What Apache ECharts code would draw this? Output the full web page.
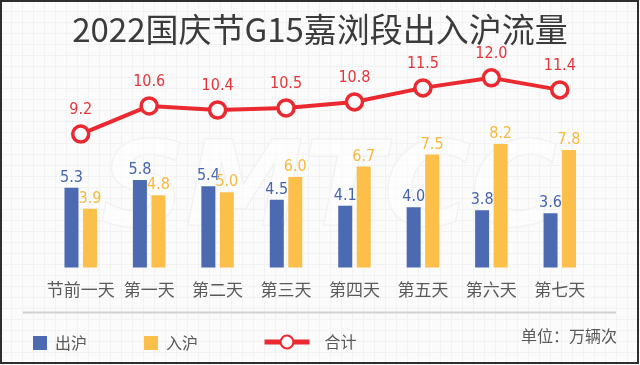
<!DOCTYPE html>
<html>
<head>
<meta charset="utf-8">
<script src="https://cdn.jsdelivr.net/npm/echarts@6/dist/echarts.min.js"></script>
<style>
html,body{margin:0;padding:0;background:#fff;}
#main{width:640px;height:365px;}
</style>
</head>
<body>
<div id="main"></div>
<script>
var categories = ['节前一天','第一天','第二天','第三天','第四天','第五天','第六天','第七天'];
var outValues = [5.3, 5.8, 5.4, 4.5, 4.1, 4.0, 3.8, 3.6];
var inValues = [3.9, 4.8, 5.0, 6.0, 6.7, 7.5, 8.2, 7.8];
var totalValues = [9.2, 10.6, 10.4, 10.5, 10.8, 11.5, 12.0, 11.4];
var seriesNames = ['出沪','入沪','合计'];
var titleText = '2022国庆节G15嘉浏段出入沪流量';
var unitText = '单位：万辆次';

var cjk = "'Noto Sans CJK SC','Noto Sans',sans-serif";
var numFont = "'Liberation Sans Narrow','DejaVu Sans Condensed','Roboto',sans-serif";

// faint background grid pattern
var pc = document.createElement('canvas');
pc.width = 11; pc.height = 11;
var pctx = pc.getContext('2d');
pctx.fillStyle = '#fbfbfb';
pctx.fillRect(0,0,11,11);
pctx.fillStyle = '#f2f2f2';
pctx.fillRect(0,0,11,1);
pctx.fillRect(0,0,1,11);

var chart = echarts.init(document.getElementById('main'), null, {renderer:'canvas'});
var option = {
  backgroundColor: {image: pc, repeat: 'repeat'},
  animation: false,
  title: {
    text: titleText,
    left: 'center',
    top: 8,
    textStyle: {fontFamily: cjk, fontSize: 33, fontWeight: 'normal', color: '#3b3b3b'}
  },
  legend: [
    {
      data: [seriesNames[0]], left: 28, top: 330, itemWidth: 14, itemHeight: 14, icon: 'rect',
      textStyle: {fontFamily: cjk, fontSize: 16, color: '#595959', padding: [0,0,0,3]}
    },
    {
      data: [seriesNames[1]], left: 139, top: 330, itemWidth: 14, itemHeight: 14, icon: 'rect',
      textStyle: {fontFamily: cjk, fontSize: 16, color: '#595959', padding: [0,0,0,3]}
    },
    {
      data: [seriesNames[2]], left: 257, top: 329, itemWidth: 45, itemHeight: 16,
      lineStyle: {width: 5},
      textStyle: {fontFamily: cjk, fontSize: 16, color: '#595959', padding: [0,0,0,10]}
    }
  ],
  grid: {left: 46.5, right: 46, top: 60, bottom: 97.5, containLabel: false},
  xAxis: {
    type: 'category',
    data: categories,
    axisLine: {show: false},
    axisTick: {show: false},
    axisLabel: {interval: 0, fontFamily: cjk, fontSize: 17, color: '#5a5a5a', margin: 14}
  },
  yAxis: [
    {type: 'value', min: 0, max: 13.77, show: false, splitLine: {show: false}},
    {type: 'value', min: 2.556, max: 12.889, show: false, splitLine: {show: false}}
  ],
  graphic: [
    {
      type: 'text', left: 100, top: 135, z: -10, silent: true,
      style: {text: 'SMTCC', font: 'italic bold 118px "DejaVu Sans", sans-serif',
        fill: 'rgba(255,255,255,0.5)', stroke: '#efefef', lineWidth: 1.5}
    },
    {
      type: 'line', z: 1, silent: true,
      shape: {x1: 23, y1: 312.5, x2: 616, y2: 312.5},
      style: {stroke: '#d2d2d2', lineWidth: 2}
    },
    {
      type: 'text', right: 23, top: 328, silent: true,
      style: {text: unitText, font: '16px ' + cjk, fill: '#595959'}
    },
    {
      type: 'rect', silent: true, z: 100,
      shape: {x: 1, y: 1, width: 637, height: 362},
      style: {fill: 'none', stroke: '#2e2e2e', lineWidth: 2}
    }
  ],
  series: [
    {
      name: seriesNames[0], type: 'bar', data: outValues, yAxisIndex: 0,
      barWidth: 14, barGap: '32%',
      itemStyle: {color: '#4b6ab2'},
      label: {show: true, position: 'top', distance: 2, formatter: function(p){return p.value.toFixed(1);},
        fontFamily: numFont, fontSize: 16, color: '#4566ad'}
    },
    {
      name: seriesNames[1], type: 'bar', data: inValues, yAxisIndex: 0,
      barWidth: 14, barGap: '32%',
      itemStyle: {color: '#fcc04a'},
      label: {show: true, position: 'top', distance: 2, formatter: function(p){return p.value.toFixed(1);},
        fontFamily: numFont, fontSize: 16, color: '#f6b93e'}
    },
    {
      name: seriesNames[2], type: 'line', data: totalValues, yAxisIndex: 1,
      symbol: 'circle', symbolSize: 16,
      lineStyle: {color: '#ea2a30', width: 4},
      itemStyle: {color: '#ffffff', borderColor: '#ea2a30', borderWidth: 3.5},
      label: {show: true, position: 'top', distance: 6, formatter: function(p){return p.value.toFixed(1);},
        fontFamily: numFont, fontSize: 16, color: '#e5353b'},
      z: 5
    }
  ]
};
chart.setOption(option);
</script>
</body>
</html>
